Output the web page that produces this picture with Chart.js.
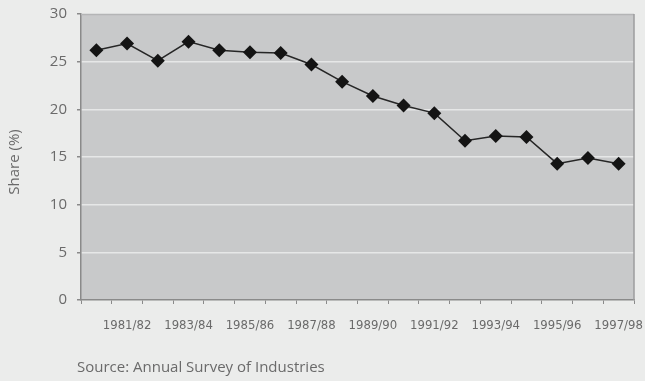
<!DOCTYPE html>
<html>
<head>
<meta charset="utf-8">
<script src="https://cdn.jsdelivr.net/npm/chart.js@4"></script>
<style>
  html, body { margin: 0; padding: 0; background: #ebeceb; }
  #wrap { width: 645px; height: 381px; position: relative; }
</style>
</head>
<body>
<div id="wrap"><canvas id="c"></canvas></div>
<script>
// Fiscal years covered by the survey
const years = ['1980/81', '1981/82', '1982/83', '1983/84', '1984/85', '1985/86',
  '1986/87', '1987/88', '1988/89', '1989/90', '1990/91', '1991/92',
  '1992/93', '1993/94', '1994/95', '1995/96', '1996/97', '1997/98'];
// Share (%) for each year
const share = [26.2, 26.9, 25.1, 27.1, 26.2, 26.0, 25.9, 24.7, 22.9, 21.4,
  20.4, 19.6, 16.7, 17.2, 17.1, 14.3, 14.9, 14.3];
// Y-axis ticks
const yTicks = [0, 5, 10, 15, 20, 25, 30];
const yTitle = 'Share (%)';
const sourceNote = 'Source: Annual Survey of Industries';

const plotFrame = {
  id: 'plotFrame',
  beforeDraw(chart) {
    const { ctx, chartArea: a } = chart;
    ctx.save();
    ctx.fillStyle = '#c8c9ca';
    ctx.fillRect(a.left, a.top, a.right - a.left, a.bottom - a.top);
    ctx.restore();
  },
  afterDraw(chart) {
    const { ctx, chartArea: a } = chart;
    ctx.save();
    ctx.lineWidth = 1.5;
    ctx.strokeStyle = '#b4b5b6';
    ctx.beginPath();
    ctx.moveTo(a.left, a.top + 0.5);
    ctx.lineTo(a.right, a.top + 0.5);
    ctx.stroke();
    ctx.strokeStyle = '#9c9d9e';
    ctx.beginPath();
    ctx.moveTo(a.right, a.top);
    ctx.lineTo(a.right, a.bottom);
    ctx.stroke();

    // axis title, rotated
    ctx.fillStyle = '#6a6a6a';
    ctx.font = '15px "Open Sans", sans-serif';
    ctx.textAlign = 'center';
    ctx.textBaseline = 'middle';
    ctx.translate(15, 162);
    ctx.rotate(-Math.PI / 2);
    ctx.fillText(yTitle, 0, 0);
    ctx.setTransform(1, 0, 0, 1, 0, 0);

    // source note
    ctx.textAlign = 'left';
    ctx.fillText(sourceNote, 77, 368);
    ctx.restore();
  }
};

new Chart(document.getElementById('c'), {
  type: 'line',
  data: {
    labels: years,
    datasets: [{
      data: share,
      borderColor: '#262626',
      borderWidth: 1.5,
      pointStyle: 'rectRot',
      pointRadius: 7,
      pointBackgroundColor: '#141414',
      pointBorderColor: '#141414',
      pointBorderWidth: 0,
      tension: 0
    }]
  },
  options: {
    responsive: true,
    maintainAspectRatio: false,
    animation: false,
    layout: { padding: { left: 0, right: 11, top: 14, bottom: 0 } },
    plugins: { legend: { display: false }, tooltip: { enabled: false } },
    scales: {
      x: {
        offset: true,
        grid: { offset: true, drawOnChartArea: false, tickLength: 4, tickColor: '#8a8a8a', lineWidth: 1 },
        border: { color: '#8a8a8a', width: 1.5 },
        ticks: {
          autoSkip: false,
          maxRotation: 0,
          padding: 14,
          color: '#6a6a6a',
          font: { family: '"DejaVu Sans Condensed", "DejaVu Sans", sans-serif', size: 13 },
          callback: (v, i) => (i % 2 === 1 ? years[i] : '')
        },
        afterFit(s) {
          s.height = 81;
          s.paddingLeft = 0;
          s.paddingRight = 0;
        }
      },
      y: {
        min: 0,
        max: 30,
        afterBuildTicks(s) { s.ticks = yTicks.map(v => ({ value: v })); },
        grid: {
          color: (c) => (c.tick && (c.tick.value === 0 || c.tick.value === 30)) ? 'rgba(0,0,0,0)' : '#e6e7e7',
          lineWidth: 1.5,
          tickLength: 4,
          tickColor: '#8a8a8a'
        },
        border: { color: '#8a8a8a', width: 1.5 },
        ticks: {
          padding: 10,
          color: '#6a6a6a',
          font: { family: '"Open Sans", sans-serif', size: 15 }
        },
        afterFit(s) {
          s.width = 81;
          s.paddingTop = 0;
          s.paddingBottom = 0;
        }
      }
    }
  },
  plugins: [plotFrame]
});
</script>
</body>
</html>
